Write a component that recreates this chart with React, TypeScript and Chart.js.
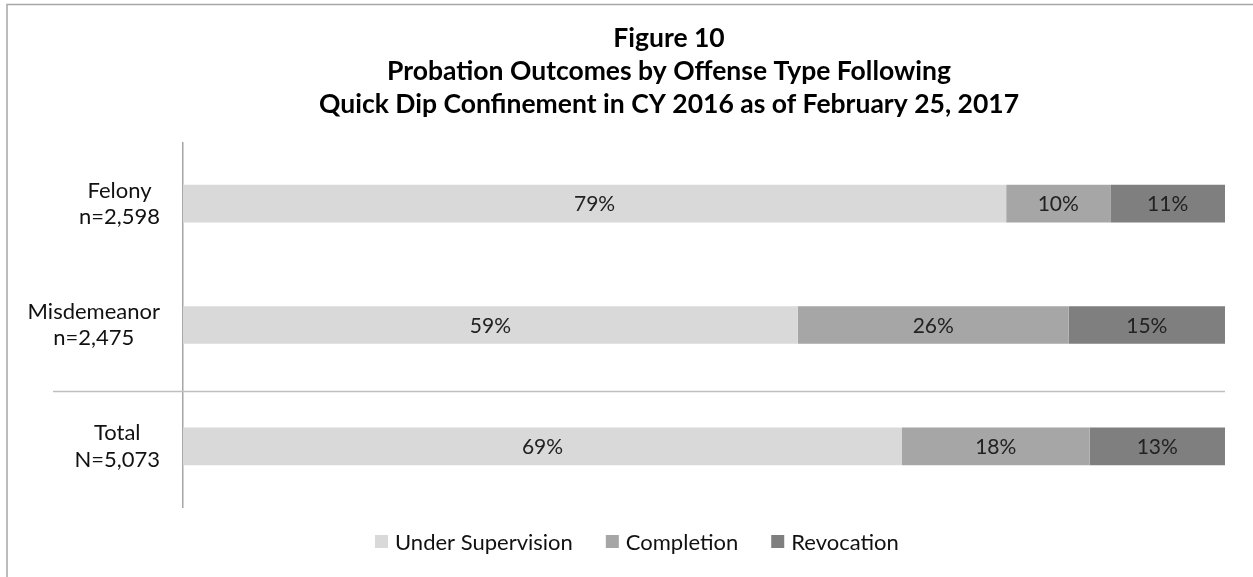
import React, { useEffect, useRef } from "react";
import { Chart, registerables } from "chart.js";

Chart.register(...registerables);

const categories: string[][] = [
  ["Felony", "n=2,598"],
  ["Misdemeanor", "n=2,475"],
  ["Total", "N=5,073"],
];
const seriesNames = ["Under Supervision", "Completion", "Revocation"];
const underSupervision = [79, 59, 69];
const completion = [10, 26, 18];
const revocation = [11, 15, 13];
const seriesColors = ["#d9d9d9", "#a6a6a6", "#7f7f7f"];
const titleLines = [
  "Figure 10",
  "Probation Outcomes by Offense Type Following",
  "Quick Dip Confinement in CY 2016 as of February 25, 2017",
];

const FONT = "Lato, 'Open Sans', sans-serif";

const customDraw = {
  id: "customDraw",
  beforeDraw(chart: any) {
    const ctx = chart.ctx;
    ctx.save();
    ctx.strokeStyle = "#a6a6a6";
    ctx.lineWidth = 1.5;
    ctx.beginPath();
    ctx.moveTo(7, 600);
    ctx.lineTo(7, 4.5);
    ctx.lineTo(1300, 4.5);
    ctx.stroke();
    ctx.restore();
  },
  afterDatasetsDraw(chart: any) {
    const ctx = chart.ctx;
    const area = chart.chartArea;
    const yScale = chart.scales.y;
    ctx.save();
    // separator line between groups and total
    const sepY = Math.round((yScale.getPixelForValue(1) + yScale.getPixelForValue(2)) / 2 + 5) + 0.5;
    ctx.strokeStyle = "#bfbfbf";
    ctx.lineWidth = 1.5;
    ctx.beginPath();
    ctx.moveTo(53, sepY);
    ctx.lineTo(area.right, sepY);
    ctx.stroke();

    // data labels
    ctx.fillStyle = "#222222";
    ctx.font = `21px ${FONT}`;
    ctx.textAlign = "center";
    ctx.textBaseline = "middle";
    chart.data.datasets.forEach((ds: any, di: number) => {
      const meta = chart.getDatasetMeta(di);
      meta.data.forEach((el: any, i: number) => {
        const cx = (el.x + el.base) / 2;
        ctx.fillText(`${ds.data[i]}%`, cx, el.y + 1);
      });
    });

    // category labels
    ctx.font = `22px ${FONT}`;
    ctx.fillStyle = "#111111";
    categories.forEach((lines, i) => {
      const y = yScale.getPixelForValue(i);
      const widths = lines.map((l) => ctx.measureText(l).width);
      const w = Math.max(...widths);
      const cx = 160 - w / 2;
      const lh = 26.5;
      lines.forEach((l, li) => {
        ctx.fillText(l, cx, y + (li - (lines.length - 1) / 2) * lh);
      });
    });

    // title
    ctx.fillStyle = "#000000";
    ctx.font = `bold 26.5px ${FONT}`;
    titleLines.forEach((t, i) => {
      ctx.fillText(t, 669, 38 + i * 33);
    });

    // legend
    ctx.font = `22px ${FONT}`;
    ctx.textAlign = "left";
    const box = 13;
    const gap = 7;
    const spacing = 33;
    const tw = seriesNames.map((n) => ctx.measureText(n).width);
    let x = 375;
    const ly = 541.5;
    seriesNames.forEach((n, i) => {
      ctx.fillStyle = seriesColors[i];
      ctx.fillRect(x, ly - box / 2, box, box);
      ctx.fillStyle = "#111111";
      ctx.fillText(n, x + box + gap, ly + 1);
      x += box + gap + tw[i] + spacing;
    });
    ctx.restore();
  },
};

export default function App() {
  const ref = useRef<HTMLCanvasElement>(null);
  useEffect(() => {
    if (!ref.current) return;
    const chart = new Chart(ref.current, {
      type: "bar",
      data: {
        labels: categories.map((c) => c.join(" ")),
        datasets: [
          { label: seriesNames[0], data: underSupervision, backgroundColor: seriesColors[0] },
          { label: seriesNames[1], data: completion, backgroundColor: seriesColors[1] },
          { label: seriesNames[2], data: revocation, backgroundColor: seriesColors[2] },
        ],
      },
      options: {
        indexAxis: "y",
        responsive: false,
        animation: false,
        devicePixelRatio: 1,
        layout: { padding: { left: 173, right: 28, top: 143, bottom: 70 } },
        datasets: { bar: { barPercentage: 0.31, categoryPercentage: 1, borderWidth: 0 } },
        plugins: {
          legend: { display: false },
          title: { display: false },
          tooltip: { enabled: false },
        },
        scales: {
          x: { stacked: true, min: 0, max: 100, display: false },
          y: {
            stacked: true,
            ticks: { display: false },
            grid: { display: false, drawTicks: false },
            border: { display: true, color: "#a6a6a6", width: 1.5 },
            afterFit: (s: any) => {
              s.width = 10;
            },
          },
        },
      },
      plugins: [customDraw],
    } as any);
    return () => chart.destroy();
  }, []);
  return (
    <div style={{ position: "absolute", left: 0, top: 0, width: 1253, height: 577, background: "#fff", overflow: "hidden" }}>
      <canvas ref={ref} width={1253} height={577} style={{ display: "block" }} />
    </div>
  );
}
